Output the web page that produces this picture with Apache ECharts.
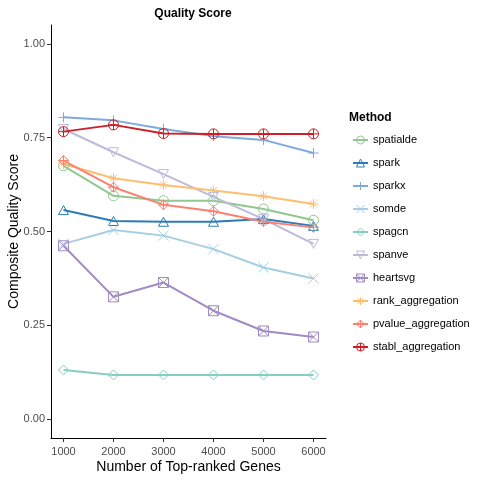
<!DOCTYPE html>
<html>
<head>
<meta charset="utf-8">
<script src="https://cdn.jsdelivr.net/npm/echarts@6/dist/echarts.min.js"></script>
<style>html,body{margin:0;padding:0;background:#fff;}#c{width:480px;height:480px;}</style>
</head>
<body>
<div id="c"></div>
<script>
const genes = [1000, 2000, 3000, 4000, 5000, 6000];
const yTicks = [0, 0.25, 0.5, 0.75, 1.0];
const methods = ['spatialde','spark','sparkx','somde','spagcn','spanve','heartsvg','rank_aggregation','pvalue_aggregation','stabl_aggregation'];
const spatialde = [0.675, 0.595, 0.582, 0.582, 0.560, 0.530];
const spark = [0.557, 0.528, 0.526, 0.526, 0.533, 0.515];
const sparkx = [0.804, 0.796, 0.773, 0.754, 0.744, 0.709];
const somde = [0.467, 0.504, 0.489, 0.453, 0.404, 0.375];
const spagcn = [0.131, 0.118, 0.118, 0.118, 0.118, 0.118];
const spanve = [0.773, 0.711, 0.653, 0.592, 0.533, 0.467];
const heartsvg = [0.462, 0.326, 0.364, 0.289, 0.235, 0.219];
const rank_aggregation = [0.680, 0.642, 0.624, 0.609, 0.594, 0.573];
const pvalue_aggregation = [0.689, 0.618, 0.571, 0.554, 0.526, 0.511];
const stabl_aggregation = [0.766, 0.784, 0.761, 0.760, 0.760, 0.760];
const values = [spatialde, spark, sparkx, somde, spagcn, spanve, heartsvg, rank_aggregation, pvalue_aggregation, stabl_aggregation];
const colors = ['#90C890','#2C7BB6','#7EAADB','#A6CEE3','#86CFC0','#BEBADA','#A08BC4','#FDBF6F','#FB8072','#CD1F25'];
const symbols = [
  'path://M0,5 A5,5 0 1,0 10,5 A5,5 0 1,0 0,5 Z',
  'path://M5,0 L10,9 L0,9 Z',
  'path://M5,0 L5,10 M0,5 L10,5',
  'path://M0,0 L10,10 M10,0 L0,10',
  'path://M5,0 L10,5 L5,10 L0,5 Z',
  'path://M0,0 L10,0 L5,9 Z',
  'path://M0,0 L10,0 L10,10 L0,10 Z M0,0 L10,10 M10,0 L0,10',
  'path://M5,0 L5,10 M0,5 L10,5 M1.5,1.5 L8.5,8.5 M8.5,1.5 L1.5,8.5',
  'path://M5,0 L10,5 L5,10 L0,5 Z M5,0 L5,10 M0,5 L10,5',
  'path://M0,5 A5,5 0 1,0 10,5 A5,5 0 1,0 0,5 Z M5,0 L5,10 M0,5 L10,5'
];
const clear = 'rgba(0,0,0,0)';
const series = methods.map((m, i) => ({
  name: m,
  type: 'line',
  data: genes.map((g, j) => [g, values[i][j]]),
  symbol: symbols[i],
  symbolSize: 10,
  symbolKeepAspect: true,
  showAllSymbol: true,
  lineStyle: { color: colors[i], width: 2 },
  itemStyle: { color: clear, borderColor: colors[i], borderWidth: 1 },
  emphasis: { disabled: true },
  animation: false
}));
const legendData = methods.map((m, i) => ({
  name: m,
  itemStyle: { color: clear, borderColor: colors[i], borderWidth: 1 },
  lineStyle: { color: colors[i], width: 2 }
}));
const chart = echarts.init(document.getElementById('c'));
chart.setOption({
  backgroundColor: '#fff',
  animation: false,
  title: [
    { text: 'Quality Score', left: 188, top: 3, textAlign: 'center',
      textStyle: { fontFamily: 'Liberation Sans, Arial', fontSize: 12, fontWeight: 'bold', color: '#000' } },
    { text: 'Method', left: 344, top: 107,
      textStyle: { fontFamily: 'Liberation Sans, Arial', fontSize: 12, fontWeight: 'bold', color: '#000' } }
  ],
  legend: {
    data: legendData,
    orient: 'vertical',
    left: 347,
    top: 129,
    itemWidth: 15,
    itemHeight: 10,
    itemGap: 11,
    textStyle: { fontFamily: 'Liberation Sans, Arial', fontSize: 11, color: '#000', lineHeight: 12 }
  },
  grid: { left: 51, right: 154, top: 25, bottom: 42, containLabel: false, outerBoundsMode: 'none' },
  xAxis: {
    type: 'value', min: 750, max: 6250,
    name: 'Number of Top-ranked Genes', nameLocation: 'middle', nameGap: 22, nameMoveOverlap: false,
    nameTextStyle: { fontFamily: 'Liberation Sans, Arial', fontSize: 14, color: '#000' },
    axisLine: { show: true, onZero: false, lineStyle: { color: '#000', width: 1 } },
    axisTick: { show: true, customValues: genes, length: 4, lineStyle: { color: '#333' } },
    axisLabel: { customValues: genes, fontFamily: 'Liberation Sans, Arial', fontSize: 11, color: '#4D4D4D', margin: 8,
      formatter: v => String(v) },
    splitLine: { show: false }
  },
  yAxis: {
    type: 'value', min: -0.05, max: 1.05,
    name: 'Composite Quality Score', nameLocation: 'middle', nameGap: 30, nameRotate: 90, nameMoveOverlap: false,
    nameTextStyle: { fontFamily: 'Liberation Sans, Arial', fontSize: 14, color: '#000' },
    axisLine: { show: true, onZero: false, lineStyle: { color: '#000', width: 1 } },
    axisTick: { show: true, customValues: yTicks, length: 4, lineStyle: { color: '#333' } },
    axisLabel: { customValues: yTicks, fontFamily: 'Liberation Sans, Arial', fontSize: 11, color: '#4D4D4D', margin: 6,
      formatter: v => v.toFixed(2) },
    splitLine: { show: false }
  },
  series: series
});
</script>
</body>
</html>
